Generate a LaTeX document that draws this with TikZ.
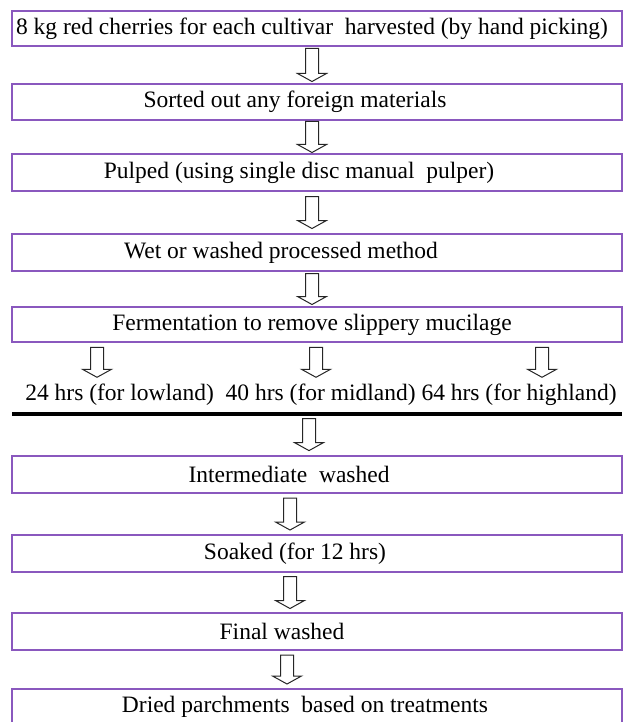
\documentclass[tikz,border=0pt]{standalone}
\usepackage{fontspec}
\setmainfont{Liberation Serif}
\usetikzlibrary{calc}

\definecolor{boxpurple}{RGB}{138,88,190}

\tikzset{
  stepbox/.style={draw=boxpurple, line width=1.6pt, minimum width=610pt, minimum height=36pt, inner sep=0pt},
  steplabel/.style={font=\fontsize{23.5}{28}\selectfont, inner sep=0pt},
  arrowline/.style={draw=black!85, line width=1pt, fill=white},
  pics/hollowdown/.style={code={
    \draw[arrowline] (-6.5,{#1/2}) -- (-6.5,{-#1/2+8}) -- (-14.5,{-#1/2+8}) -- (0,{-#1/2})
      -- (14.5,{-#1/2+8}) -- (6.5,{-#1/2+8}) -- (6.5,{#1/2}) -- cycle;
  }},
  pics/hollowdown/.default=32
}

\begin{document}
\begin{tikzpicture}[x=1pt, y=1pt]
  \useasboundingbox (0,0) rectangle (623,-722);

  % x positions of the arrows
  \coordinate (mainx) at (312,0);
  \coordinate (lowx) at (97,0);
  \coordinate (midx) at (316,0);
  \coordinate (highx) at (542,0);
  \coordinate (washx) at (309,0);
  \coordinate (soakx) at (290,0);
  \coordinate (dryx) at (287,0);

  % boxes before fermentation
  \node[stepbox, minimum height=35pt, label={[steplabel, xshift=-5pt]center:8 kg red cherries for each cultivar\ \ harvested (by hand picking)}] (harvest) at (317,-28.5) {};
  \node[stepbox, label={[steplabel, xshift=-22pt]center:Sorted out any foreign materials}] (sorted) at (317,-102) {};
  \node[stepbox, minimum height=37pt, label={[steplabel, xshift=-18pt]center:Pulped (using single disc manual\ \ pulper)}] (pulped) at (317,-172.5) {};
  \node[stepbox, minimum height=37pt, label={[steplabel, xshift=-36pt]center:Wet or washed processed method}] (wet) at (317,-252.5) {};
  \node[stepbox, minimum height=35pt, label={[steplabel, xshift=-5pt]center:Fermentation to remove slippery mucilage}] (ferment) at (317,-324.5) {};

  % fermentation times
  \node[steplabel] (hrs) at (321,-395) {24 hrs (for lowland)\ \ 40 hrs (for midland) 64 hrs (for highland)};

  % thick separating line
  \coordinate (barL) at (12,-414);
  \coordinate (barR) at (622,-414);
  \draw[line width=4pt] (barL) -- (barR);

  % boxes after fermentation
  \node[stepbox, minimum height=37pt, label={[steplabel, xshift=-28pt]center:Intermediate\ \ washed}] (inter) at (317,-474.5) {};
  \node[stepbox, minimum height=37pt, label={[steplabel, xshift=-22pt]center:Soaked (for 12 hrs)}] (soaked) at (317,-553.5) {};
  \node[stepbox, minimum height=37pt, label={[steplabel, xshift=-35pt]center:Final washed}] (final) at (317,-631.5) {};
  \node[stepbox, label={[steplabel, xshift=-12pt]center:Dried parchments\ \ based on treatments}] (dried) at (317,-707) {};

  % hollow arrows
  \pic at ($(harvest.south -| mainx)!0.5!(sorted.north -| mainx)$) {hollowdown=33};
  \pic at ($(sorted.south -| mainx)!0.5!(pulped.north -| mainx)$) {hollowdown=31};
  \pic at ($(pulped.south -| mainx)!0.5!(wet.north -| mainx)$) {hollowdown};
  \pic at ($(wet.south -| mainx)!0.5!(ferment.north -| mainx)$) {hollowdown=31};
  \pic at ($(ferment.south -| lowx)+(0,-19.5)$) {hollowdown=30};
  \pic at ($(ferment.south -| midx)+(0,-19.5)$) {hollowdown=30};
  \pic at ($(ferment.south -| highx)+(0,-19.5)$) {hollowdown=30};
  \pic at ($(barL -| washx)!0.5!(inter.north -| washx)$) {hollowdown};
  \pic at ($(inter.south -| soakx)!0.5!(soaked.north -| soakx)$) {hollowdown};
  \pic at ($(soaked.south -| soakx)!0.5!(final.north -| soakx)$) {hollowdown};
  \pic at ($(final.south -| dryx)!0.5!(dried.north -| dryx)$) {hollowdown=29};
\end{tikzpicture}
\end{document}
